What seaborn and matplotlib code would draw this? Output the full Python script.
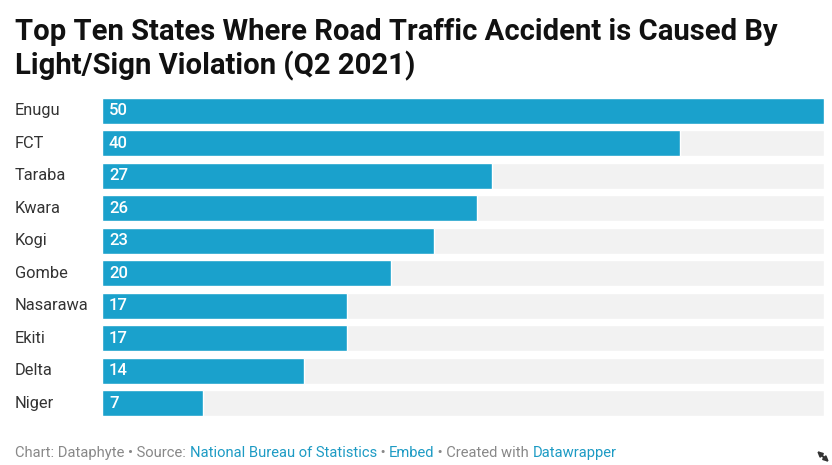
import matplotlib
matplotlib.use("Agg")
import matplotlib.pyplot as plt
import seaborn as sns
import pandas as pd

# data
states = ["Enugu", "FCT", "Taraba", "Kwara", "Kogi", "Gombe", "Nasarawa", "Ekiti", "Delta", "Niger"]
cases = [50, 40, 27, 26, 23, 20, 17, 17, 14, 7]
max_value = 50

df = pd.DataFrame({"state": states, "cases": cases, "full": [max_value] * len(states)})

sns.set_style("white")
plt.rcParams["font.family"] = ["Roboto", "DejaVu Sans"]

W, H = 832, 465
fig = plt.figure(figsize=(W / 100, H / 100), dpi=100)
ax = fig.add_axes([102 / W, 1 - 416 / H, (824 - 102) / W, (416 - 98) / H])

# grey background bars, then the values
sns.barplot(data=df, x="full", y="state", color="#f2f2f2", width=0.8, saturation=1, ax=ax, orient="h")
sns.barplot(data=df, x="cases", y="state", color="#1aa1cc", width=0.8, saturation=1, ax=ax, orient="h")
ax.set_xlim(0, max_value)
ax.set_ylim(len(states) - 0.6, -0.4)
for s in ax.spines.values():
    s.set_visible(False)
ax.set_xticks([])
ax.set_yticks([])
ax.set_xlabel("")
ax.set_ylabel("")

for i, (st, v) in enumerate(zip(states, cases)):
    ax.text(-(87 / 722) * max_value, i, st, ha="left", va="center", fontsize=11.8, color="#333333")
    ax.annotate(str(v), xy=(0, i), xytext=(5, 0), textcoords="offset points",
                ha="left", va="center", fontsize=12, fontweight="medium", color="white")

# title
fig.text(15 / W, 1 - 18 / H, "Top Ten States Where Road Traffic Accident is Caused By\nLight/Sign Violation (Q2 2021)",
         ha="left", va="top", fontsize=21.1, fontweight="bold", color="#111111", linespacing=1.2)

# footer with coloured links
pieces = [("Chart: Dataphyte • Source: ", "#888888"), ("National Bureau of Statistics", "#1d9bc4"),
          (" • ", "#888888"), ("Embed", "#1d9bc4"), (" • Created with ", "#888888"), ("Datawrapper", "#1d9bc4")]
fig.canvas.draw()
renderer = fig.canvas.get_renderer()
x = 15
for txt, col in pieces:
    t = fig.text(x / W, 1 - 453 / H, txt, ha="left", va="center", fontsize=10.6, color=col)
    x += t.get_window_extent(renderer).width

# little resize arrow in the corner
fig.add_artist(matplotlib.patches.FancyArrowPatch((817 / W, 1 - 451 / H), (829 / W, 1 - 462 / H),
                                                  transform=fig.transFigure, arrowstyle="<|-|>",
                                                  mutation_scale=7, shrinkA=0, shrinkB=0,
                                                  color="#333333", lw=1.5))

fig.savefig("out.png", dpi=100)
